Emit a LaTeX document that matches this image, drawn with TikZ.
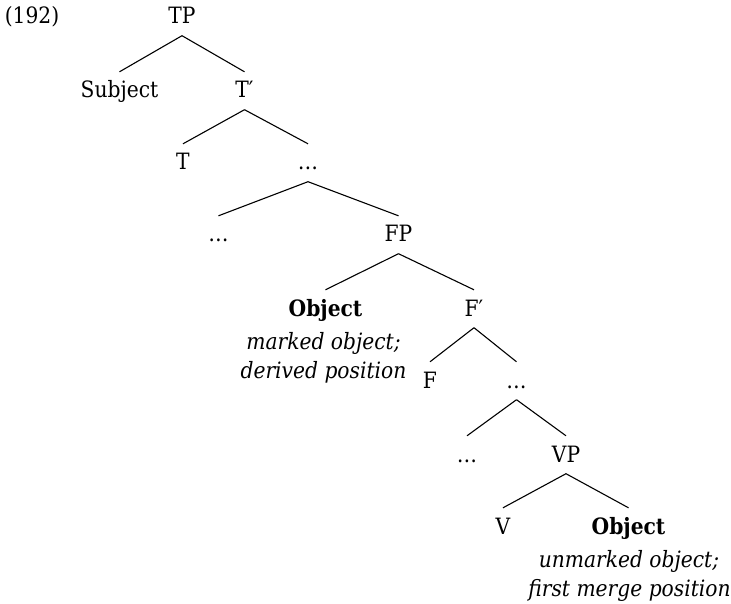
\documentclass[tikz,border=0pt]{standalone}
\usepackage{fontspec}
\setmainfont{DejaVu Serif}[FakeStretch=0.9]
\begin{document}
\begin{tikzpicture}[x=1pt,y=-1pt,
  lbl/.style={anchor=base, inner sep=0pt, font=\fontsize{22.5}{29}\selectfont},
  cat/.style={lbl, text height=15.5pt, text depth=1pt, inner ysep=10.5pt},
  note/.style={lbl, font=\fontsize{22.5}{29}\selectfont\itshape},
  branch/.style={line width=1.1pt}]
\useasboundingbox (0,0) rectangle (731,604);
% example number
\node[lbl] (num) at (32,24) {(192)};
% tree nodes, one row per level
\node[cat] (TP)   at (182,24)    {TP};
\node[cat] (Subj) at (119.5,98)  {Subject};
\node[cat] (Tb)   at (244.5,98)  {T′};
\node[cat] (T)    at (183,170)   {T};
\node[cat] (d1)   at (308,170)   {\dots};
\node[cat] (d2)   at (218.5,242) {\dots};
\node[cat] (FP)   at (398.5,242) {FP};
\node[cat] (Obj1) at (325.5,316) {\textbf{Object}};
\node[cat] (Fb)   at (474,316)   {F′};
\node[cat] (F)    at (430,388)   {F};
\node[cat] (d3)   at (516.5,388) {\dots};
\node[cat] (d4)   at (467,462)   {\dots};
\node[cat] (VP)   at (566,462)   {VP};
\node[cat] (V)    at (503,534)   {V};
\node[cat] (Obj2) at (628.5,534) {\textbf{Object}};
% annotations under the two object positions
\node[note] (n1a) at (323.5,349) {marked object;};
\node[note] (n1b) at (323.5,378) {derived position};
\node[note] (n2a) at (629,567)   {unmarked object;};
\node[note] (n2b) at (629.5,596) {first merge position};
% branches
\foreach \p/\c in {TP/Subj, TP/Tb, Tb/T, Tb/d1, d1/d2, d1/FP, FP/Obj1, FP/Fb,
                   Fb/F, Fb/d3, d3/d4, d3/VP, VP/V, VP/Obj2}
  \draw[branch] (\p.south) -- (\c.north);
\end{tikzpicture}
\end{document}
